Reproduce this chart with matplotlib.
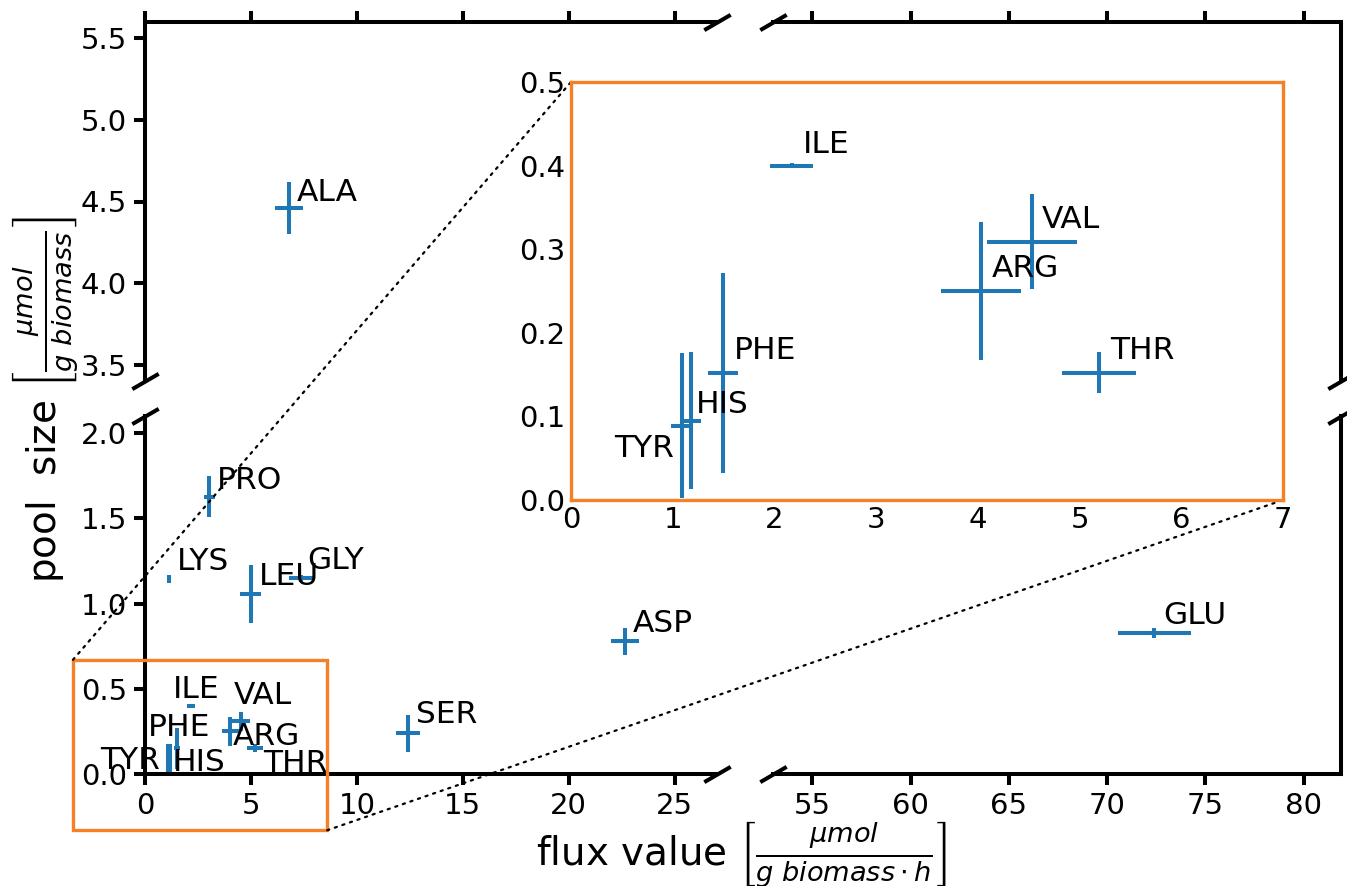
import numpy as np
import matplotlib
matplotlib.use('Agg')
import matplotlib.pyplot as plt
from matplotlib.patches import Rectangle, ConnectionPatch

# amino acid pool sizes vs. flux values
names = ['ALA', 'PRO', 'LYS', 'LEU', 'GLY', 'SER', 'ASP', 'GLU',
         'ILE', 'VAL', 'ARG', 'THR', 'PHE', 'HIS', 'TYR']
flux = [6.8, 3.03, 1.13, 4.98, 7.38, 12.4, 22.65, 72.4,
        2.17, 4.53, 4.03, 5.19, 1.495, 1.18, 1.087]
flux_err = [0.66, 0.26, 0.05, 0.51, 0.58, 0.57, 0.66, 1.85,
            0.21, 0.44, 0.39, 0.365, 0.146, 0.10, 0.10]
pool = [4.46, 1.626, 1.144, 1.057, 1.148, 0.238, 0.778, 0.825,
        0.40, 0.309, 0.25, 0.1525, 0.152, 0.095, 0.089]
pool_err = [0.16, 0.12, 0.025, 0.17, 0.02, 0.11, 0.08, 0.03,
            0.003, 0.057, 0.083, 0.024, 0.12, 0.082, 0.087]

xlims = [(0, 27), (53, 81.9)]
ylims = [(3.4, 5.6), (0, 2.1)]
inset_xlim = (0, 7)
inset_ylim = (0, 0.5)

# label offsets in pixels (main panels / zoomed inset)
main_offsets = {'ALA': (8, 7), 'PRO': (8, 8), 'LYS': (8, 9), 'LEU': (8, 9), 'GLY': (6, 9),
                'SER': (8, 10), 'ASP': (8, 9), 'GLU': (9, 9), 'ILE': (-18, 8), 'VAL': (-7, 17),
                'PHE': (-29, 12), 'ARG': (2, -14), 'TYR': (-68, -10), 'HIS': (3, -13),
                'THR': (8, -24)}
inset_offsets = {'ILE': (11, 13), 'VAL': (10, 14), 'ARG': (11, 14), 'THR': (11, 14),
                 'PHE': (11, 14), 'HIS': (5, 8), 'TYR': (-67, -31)}

blue = '#1f77b4'
orange = '#f58025'
lw = 2.9
fs_tick = 21
fs_text = 22.5
fs_label = 28

fig = plt.figure(figsize=(13.47, 8.86), dpi=100)
W, H = 1347, 886


def px_axes(x0, x1, y0, y1):
    return fig.add_axes([x0 / W, 1 - y1 / H, (x1 - x0) / W, (y1 - y0) / H])


cols = [(145, 717), (773, 1341)]
rows = [(22, 381), (416, 774)]
axes = {}
for r, (y0, y1) in enumerate(rows):
    for c, (x0, x1) in enumerate(cols):
        ax = px_axes(x0, x1, y0, y1)
        ax.set_xlim(*xlims[c])
        ax.set_ylim(*ylims[r])
        ax.errorbar(flux, pool, xerr=flux_err, yerr=pool_err, fmt='none',
                    ecolor=blue, elinewidth=lw, capsize=0)
        for s in ax.spines.values():
            s.set_linewidth(lw)
        ax.spines['top'].set_visible(r == 0)
        ax.spines['bottom'].set_visible(r == 1)
        ax.spines['left'].set_visible(c == 0)
        ax.spines['right'].set_visible(c == 1)
        ax.tick_params(direction='out', length=8, width=lw, labelsize=fs_tick, pad=5,
                       top=(r == 0), bottom=(r == 1), labelbottom=(r == 1), labeltop=False,
                       left=(c == 0), labelleft=(c == 0), right=False, labelright=False)
        ax.set_xticks(np.arange(0, 26, 5) if c == 0 else np.arange(55, 81, 5))
        ax.set_yticks(np.arange(3.5, 5.6, 0.5) if r == 0 else np.arange(0, 2.01, 0.5))
        ax.yaxis.set_major_formatter('{x:.1f}')
        axes[(r, c)] = ax

# labels only in the panel holding the point
for n, x, y in zip(names, flux, pool):
    c = 0 if x < 40 else 1
    r = 0 if y > 3 else 1
    axes[(r, c)].annotate(n, (x, y), xytext=main_offsets[n], textcoords='offset pixels',
                          fontsize=fs_text, ha='left', va='baseline')

# break marks
bk = dict(marker=[(-1, -0.58), (1, 0.58)], markersize=19, linestyle='none',
          color='k', mec='k', mew=lw, clip_on=False)
axes[(0, 0)].plot([0, 1], [0, 1], transform=axes[(0, 0)].transAxes, **bk)
axes[(0, 1)].plot([0, 1], [1, 0], transform=axes[(0, 1)].transAxes, **bk)
axes[(1, 0)].plot([0, 1], [1, 0], transform=axes[(1, 0)].transAxes, **bk)
axes[(1, 1)].plot([0, 1], [0, 1], transform=axes[(1, 1)].transAxes, **bk)

# inset
ax_in = px_axes(571, 1283, 82, 500)
ax_in.set_zorder(5)
ax_in.errorbar(flux, pool, xerr=flux_err, yerr=pool_err, fmt='none',
               ecolor=blue, elinewidth=lw, capsize=0)
ax_in.set_xlim(*inset_xlim)
ax_in.set_ylim(*inset_ylim)
ax_in.set_xticks(np.arange(0, 8, 1))
ax_in.set_yticks(np.arange(0, 0.51, 0.1))
ax_in.yaxis.set_major_formatter('{x:.1f}')
ax_in.tick_params(length=0, labelsize=fs_tick, pad=4)
for s in ax_in.spines.values():
    s.set_color(orange)
    s.set_linewidth(2.4)
for n, x, y in zip(names, flux, pool):
    if n in inset_offsets:
        ax_in.annotate(n, (x, y), xytext=inset_offsets[n], textcoords='offset pixels',
                       fontsize=fs_text, ha='left', va='baseline')

# zoom indicator box and connectors
ax_bl = axes[(1, 0)]
ax_bl.add_patch(Rectangle((-3.4, -0.33), 12, 1.0, fill=False, ec=orange, lw=2.4,
                          clip_on=False, zorder=4))
for pa, pb in [((-3.4, 0.67), (0, 0.5)), ((8.6, -0.33), (7, 0))]:
    con = ConnectionPatch(xyA=pa, coordsA=ax_bl.transData, xyB=pb, coordsB=ax_in.transData,
                          linestyle=(0, (1, 2.6)), linewidth=1.6, color='k')
    fig.add_artist(con)

fig.text(0.5505, 0.035, r'flux value $\left[\frac{\mu mol}{g\ biomass \cdot h}\right]$',
         fontsize=fs_label, ha='center', va='center')
fig.text(0.034, 0.549, r'pool  size $\left[\frac{\mu mol}{g\ biomass}\right]$',
         fontsize=fs_label, ha='center', va='center', rotation=90)

fig.savefig('out.png', dpi=100)
